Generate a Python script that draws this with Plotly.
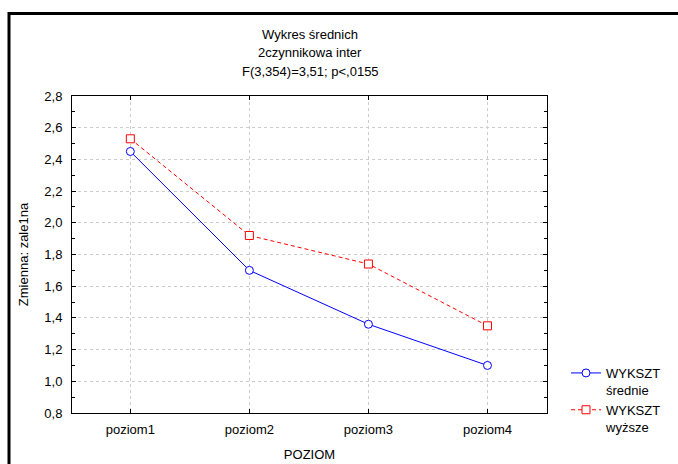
import plotly.graph_objects as go

categories = ["poziom1", "poziom2", "poziom3", "poziom4"]
srednie = [2.45, 1.70, 1.36, 1.10]
wyzsze = [2.53, 1.92, 1.74, 1.35]
series_names = ["WYKSZT<br>średnie", "WYKSZT<br>wyższe"]
title_lines = ["Wykres średnich", "2czynnikowa inter", "F(3,354)=3,51; p<,0155"]
x_title = "POZIOM"
y_title = "Zmienna: zale1na"

W, H = 678, 464
L, R, T, B = 72, 131, 96, 51
PW, PH = W - L - R, H - T - B

def px_x(x):
    return (x - L) / PW

def px_y(y):
    return (H - B - y) / PH

FONT = "Liberation Sans, Arial, sans-serif"

fig = go.Figure()
fig.add_trace(go.Scatter(
    x=categories, y=srednie, name=series_names[0], mode="lines+markers",
    line=dict(color="#0000ff", width=1),
    marker=dict(symbol="circle", size=8, color="white", line=dict(width=1, color="#0000ff")),
))
fig.add_trace(go.Scatter(
    x=categories, y=wyzsze, name=series_names[1], mode="lines+markers",
    line=dict(color="#ff0000", width=1, dash="4px,3px"),
    marker=dict(symbol="square", size=8, color="white", line=dict(width=1, color="#ff0000")),
))

axis_common = dict(
    showline=True, linecolor="black", linewidth=1, mirror="allticks",
    ticks="inside", ticklen=4, tickcolor="black", automargin=False,
    showgrid=True, gridcolor="#cccccc", griddash="dot", gridwidth=1,
    zeroline=False, tickfont=dict(family=FONT, size=13, color="black"),
    title_font=dict(family=FONT, size=13, color="black"),
)

fig.update_xaxes(
    type="category", range=[-0.49, 3.5], ticklabelstandoff=4,
    title=dict(text=x_title, standoff=14), **axis_common,
)
fig.update_yaxes(
    range=[0.8, 2.8], dtick=0.2, tick0=0.8, tickformat=".1f", ticklabelstandoff=6,
    minor=dict(ticks="inside", dtick=0.1, ticklen=3, tickcolor="black", showgrid=False),
    title=dict(text=y_title, standoff=12), **axis_common,
)

annotations = []
for txt, ypix in zip(title_lines, [34, 52.7, 71.7]):
    annotations.append(dict(
        text=txt, xref="paper", yref="paper", x=px_x(310), y=px_y(ypix),
        xanchor="center", yanchor="middle", showarrow=False,
        font=dict(family=FONT, size=13, color="black"),
    ))

shapes = [
    dict(type="line", xref="paper", yref="paper", x0=px_x(9), x1=px_x(680),
         y0=px_y(13.5), y1=px_y(13.5), line=dict(color="black", width=3)),
    dict(type="line", xref="paper", yref="paper", x0=px_x(9), x1=px_x(9),
         y0=px_y(12), y1=px_y(466), line=dict(color="black", width=3)),
]

fig.update_layout(
    width=W, height=H, margin=dict(l=L, r=R, t=T, b=B, pad=0, autoexpand=False),
    paper_bgcolor="white", plot_bgcolor="white",
    separators=", ",
    font=dict(family=FONT, size=13, color="black"),
    showlegend=True,
    legend=dict(
        x=px_x(566), y=px_y(358), xanchor="left", yanchor="top",
        valign="top", font=dict(family=FONT, size=13, color="black"),
        bgcolor="rgba(0,0,0,0)", itemwidth=30, tracegroupgap=0,
    ),
    annotations=annotations, shapes=shapes,
)

fig.write_html("out.html")
